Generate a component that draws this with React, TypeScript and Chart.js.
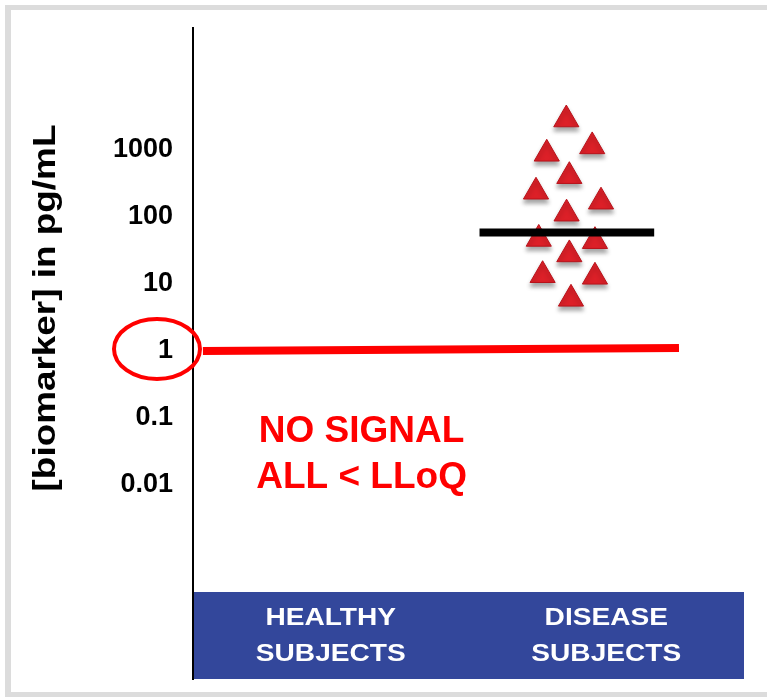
import React, { useEffect, useRef } from "react";
import { Chart, registerables } from "chart.js";

Chart.register(...registerables);

const CATEGORY_LINES = [
  ["HEALTHY", "SUBJECTS"],
  ["DISEASE", "SUBJECTS"],
];
const CATEGORY_POS = [0.5, 1.5];
const Y_TICKS = [0.01, 0.1, 1, 10, 100, 1000];
const Y_TITLE = "[biomarker] in pg/mL";
const DISEASE_X = [1.355, 1.449, 1.284, 1.366, 1.245, 1.481, 1.356, 1.255, 1.459, 1.366, 1.269, 1.459, 1.372];
const DISEASE_Y = [2850, 1130, 877, 406, 238, 169, 112, 47, 43.5, 27.6, 13.5, 12.8, 6.0];
const MEDIAN_X = [1.04, 1.674];
const MEDIAN_Y = [58.7, 58.7];
const LLOQ_X = [0.036, 1.764];
const LLOQ_Y = [1, 1.11];
const NOTE_LINES = ["NO SIGNAL", "ALL < LLoQ"];
const NOTE_X = 0.612;

const FONT = "'Liberation Sans', Arial, Helvetica, sans-serif";

const overlay = {
  id: "overlay",
  beforeDraw(chart: any) {
    const ctx = chart.ctx;
    ctx.save();
    ctx.fillStyle = "#ffffff";
    ctx.fillRect(0, 0, chart.width, chart.height);
    ctx.fillStyle = "#dcdcdc";
    ctx.fillRect(5, 5, chart.width, chart.height - 5);
    ctx.fillStyle = "#ffffff";
    ctx.fillRect(11, 10, chart.width, chart.height - 15);
    ctx.restore();
  },
  beforeDatasetsDraw(chart: any) {
    const ctx = chart.ctx;
    const xs = chart.scales.x;
    const area = chart.chartArea;
    ctx.save();
    ctx.fillStyle = "#33479b";
    const left = xs.getPixelForValue(0) + 1;
    const right = xs.getPixelForValue(2);
    ctx.fillRect(left, area.bottom - 87, right - left, 87);
    ctx.restore();
  },
  beforeDatasetDraw(chart: any, args: any) {
    if (args.index === 1) {
      const ctx = chart.ctx;
      ctx.save();
      ctx.shadowColor = "rgba(0,0,0,0.35)";
      ctx.shadowBlur = 4;
      ctx.shadowOffsetY = 4;
    }
  },
  afterDatasetDraw(chart: any, args: any) {
    if (args.index === 1) {
      chart.ctx.restore();
    }
  },
  afterDraw(chart: any) {
    const ctx = chart.ctx;
    const xs = chart.scales.x;
    const ys = chart.scales.y;
    const area = chart.chartArea;
    ctx.save();
    // ellipse around tick "1"
    const cy = ys.getPixelForValue(1) - 2;
    ctx.strokeStyle = "#ff0000";
    ctx.lineWidth = 4;
    ctx.beginPath();
    ctx.ellipse(area.left - 36, cy, 43, 30, 0, 0, Math.PI * 2);
    ctx.stroke();

    // note
    ctx.fillStyle = "#ff0000";
    ctx.font = `bold 37px ${FONT}`;
    ctx.textAlign = "center";
    ctx.textBaseline = "middle";
    const nx = xs.getPixelForValue(NOTE_X);
    NOTE_LINES.forEach((t, i) => ctx.fillText(t, nx, 432 + i * 46));

    // category labels
    ctx.fillStyle = "#ffffff";
    ctx.font = `bold 24px ${FONT}`;
    CATEGORY_LINES.forEach((lines, c) => {
      const px = xs.getPixelForValue(CATEGORY_POS[c]);
      lines.forEach((t, i) => {
        ctx.save();
        ctx.translate(px, area.bottom - 61 + i * 36);
        ctx.scale(1.17, 1);
        ctx.fillText(t, 0, 0);
        ctx.restore();
      });
    });

    // y title
    ctx.fillStyle = "#000000";
    ctx.font = `bold 31px ${FONT}`;
    ctx.save();
    ctx.translate(46, 308);
    ctx.rotate(-Math.PI / 2);
    ctx.scale(1.19, 1);
    ctx.fillText(Y_TITLE, 0, 0);
    ctx.restore();
    ctx.restore();
  },
};

export default function App() {
  const ref = useRef<HTMLCanvasElement>(null);
  useEffect(() => {
    const canvas = ref.current!;
    const chart = new Chart(canvas, {
      type: "scatter",
      data: {
        datasets: [
          {
            type: "line",
            data: MEDIAN_X.map((x, i) => ({ x, y: MEDIAN_Y[i] })),
            borderColor: "#000000",
            borderWidth: 8,
            pointRadius: 0,
            borderCapStyle: "butt",
          } as any,
          {
            data: DISEASE_X.map((x, i) => ({ x, y: DISEASE_Y[i] })),
            pointStyle: "triangle",
            pointRadius: 14.5,
            backgroundColor: "#dc2028",
            borderColor: "#b8121a",
            borderWidth: 1,
          },
          {
            type: "line",
            data: LLOQ_X.map((x, i) => ({ x, y: LLOQ_Y[i] })),
            borderColor: "#ff0000",
            borderWidth: 8,
            pointRadius: 0,
            borderCapStyle: "butt",
          } as any,
        ],
      },
      options: {
        animation: false,
        responsive: false,
        devicePixelRatio: 1,
        layout: { padding: { left: 0, top: 28, right: 23, bottom: 18 } },
        plugins: { legend: { display: false }, tooltip: { enabled: false } },
        scales: {
          x: { type: "linear", min: 0, max: 2, display: false },
          y: {
            type: "logarithmic",
            min: 1.27e-5,
            max: 66200,
            grid: { display: false, drawTicks: false },
            border: { display: true, color: "#000000", width: 2 },
            afterFit: (s: any) => {
              s.width = 193;
              s.paddingTop = 0;
              s.paddingBottom = 0;
            },
            afterBuildTicks: (s: any) => {
              s.ticks = Y_TICKS.map((v) => ({ value: v }));
            },
            ticks: {
              autoSkip: false,
              padding: 20,
              color: "#000000",
              font: { family: FONT, size: 27, weight: "bold" },
              callback: (v: any) => String(v),
            },
          },
        },
      },
      plugins: [overlay],
    });
    return () => chart.destroy();
  }, []);
  return (
    <div style={{ position: "fixed", left: 0, top: 0, width: 767, height: 697 }}>
      <canvas ref={ref} width={767} height={697} style={{ width: 767, height: 697, display: "block" }} />
    </div>
  );
}
